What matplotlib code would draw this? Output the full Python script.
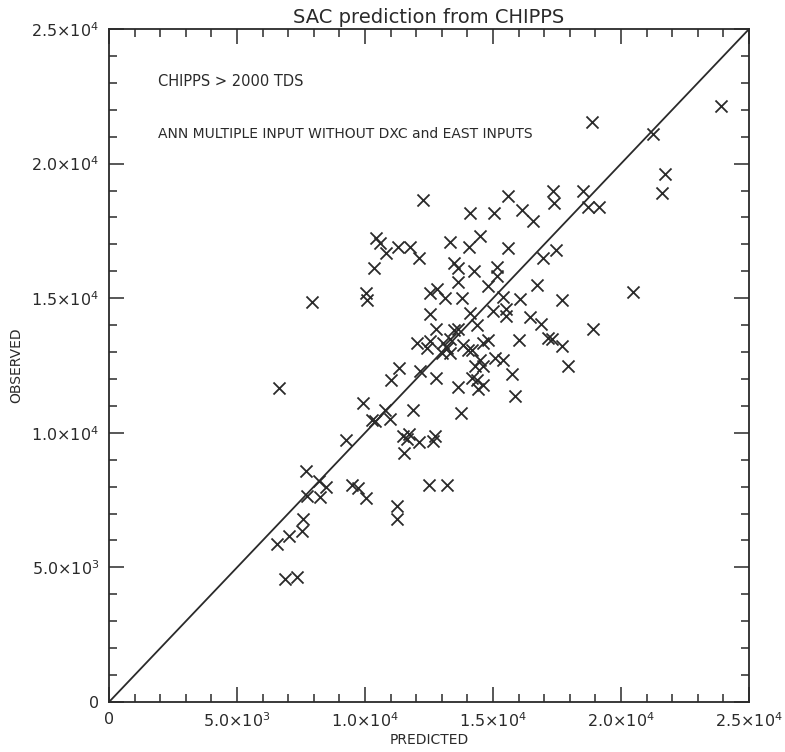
import matplotlib
matplotlib.use("Agg")
import matplotlib.pyplot as plt
from matplotlib.ticker import MultipleLocator, FixedLocator

plt.rcParams['font.family'] = ['DejaVu Sans']
plt.rcParams['mathtext.fontset'] = 'dejavusans'

# predicted / observed pairs
predicted = [23890, 18855, 21260, 21720, 21610, 18500, 17360, 15600, 12250, 17380,
             18720, 19150, 16120, 16570, 15600, 16940, 17450, 15400, 16050, 16730,
             17710, 20460, 15490, 15490, 16440, 16870, 16000, 17160, 17290, 17680,
             18920, 17940, 15400, 15730, 15860, 14100, 15050, 10430, 10590, 10820,
             11280, 11760, 12120, 13320, 14070, 14490, 10360, 13480, 13640, 14260,
             15140, 15170, 13640, 14820, 10040, 10090, 7940, 12540, 12800, 13120,
             13800, 14980, 12540, 14100, 14360, 12770, 13480, 13640, 12020, 12540,
             12410, 13060, 13190, 13320, 12990, 13320, 13840, 14030, 14160, 14620,
             14820, 14490, 14620, 15080, 14300, 14360, 14160, 14620, 14430, 13640,
             12770, 12150, 11340, 11010, 6650, 9910, 10780, 10980, 10390, 10260,
             11860, 13750, 9240, 11500, 11730, 11630, 12120, 12640, 12730, 11520,
             7690, 8210, 8480, 7720, 8240, 9480, 9740, 10040, 12500, 13190,
             11240, 11240, 7570, 7530, 7040, 6570, 6880, 7330]
observed = [22150, 21550, 21090, 19600, 18900, 19000, 19000, 18790, 18630, 18520,
            18400, 18400, 18270, 17870, 16880, 16500, 16790, 15050, 14980, 15480,
            14950, 15240, 14600, 14340, 14310, 14060, 13450, 13530, 13500, 13240,
            13840, 12500, 12700, 12180, 11370, 18150, 18180, 17250, 17060, 16690,
            16900, 16900, 16500, 17090, 16900, 17310, 16110, 16320, 16130, 16010,
            16170, 15820, 15600, 15450, 15180, 14950, 14850, 15200, 15330, 14990,
            15020, 14520, 14400, 14460, 14020, 13840, 13810, 13840, 13340, 13400,
            13150, 13340, 13150, 13470, 12970, 12970, 13280, 13090, 13090, 13340,
            13440, 12720, 12470, 12780, 12470, 11980, 12040, 11790, 11610, 11710,
            12040, 12290, 12390, 11950, 11680, 11110, 10860, 10520, 10430, 10470,
            10840, 10740, 9720, 9870, 9970, 9770, 9660, 9680, 9870, 9250,
            8570, 8200, 7990, 7660, 7620, 8070, 7950, 7580, 8050, 8050,
            7290, 6790, 6790, 6370, 6180, 5880, 4560, 4660]

ticks = [0, 5000, 10000, 15000, 20000, 25000]
tick_labels = ['0', r'$5.0{\times}10^{3}$', r'$1.0{\times}10^{4}$',
               r'$1.5{\times}10^{4}$', r'$2.0{\times}10^{4}$', r'$2.5{\times}10^{4}$']

fig = plt.figure(figsize=(7.85, 7.52), dpi=100)
ax = fig.add_axes([0.1389, 0.0665, 0.8153, 0.8949])

ink = '#2a2a2a'
ax.plot([0, 25000], [0, 25000], color=ink, lw=1.3)
ax.scatter(predicted, observed, marker='x', s=75, color=ink, linewidths=1.3)

ax.set_xlim(0, 25000)
ax.set_ylim(0, 25000)
for axis in (ax.xaxis, ax.yaxis):
    axis.set_major_locator(FixedLocator(ticks))
    axis.set_minor_locator(MultipleLocator(1000))
ax.set_xticklabels(tick_labels)
ax.set_yticklabels(tick_labels)
ax.tick_params(which='both', direction='in', top=True, right=True, colors=ink,
               labelsize=11.5, width=1.1)
ax.tick_params(which='major', length=11, pad=7)
ax.tick_params(which='minor', length=6)
for sp in ax.spines.values():
    sp.set_linewidth(1.3)
    sp.set_color(ink)

ax.set_title('SAC prediction from CHIPPS', fontsize=14, color=ink, pad=4)
ax.set_xlabel('PREDICTED', fontsize=10, color=ink, labelpad=2)
ax.set_ylabel('OBSERVED', fontsize=10, color=ink, labelpad=6)

ax.text(1910, 23060, 'CHIPPS > 2000 TDS', fontsize=10.5, color=ink, va='center')
ax.text(1910, 21090, 'ANN MULTIPLE INPUT WITHOUT DXC and EAST INPUTS', fontsize=10,
        color=ink, va='center')

fig.savefig('out.png', dpi=100)
